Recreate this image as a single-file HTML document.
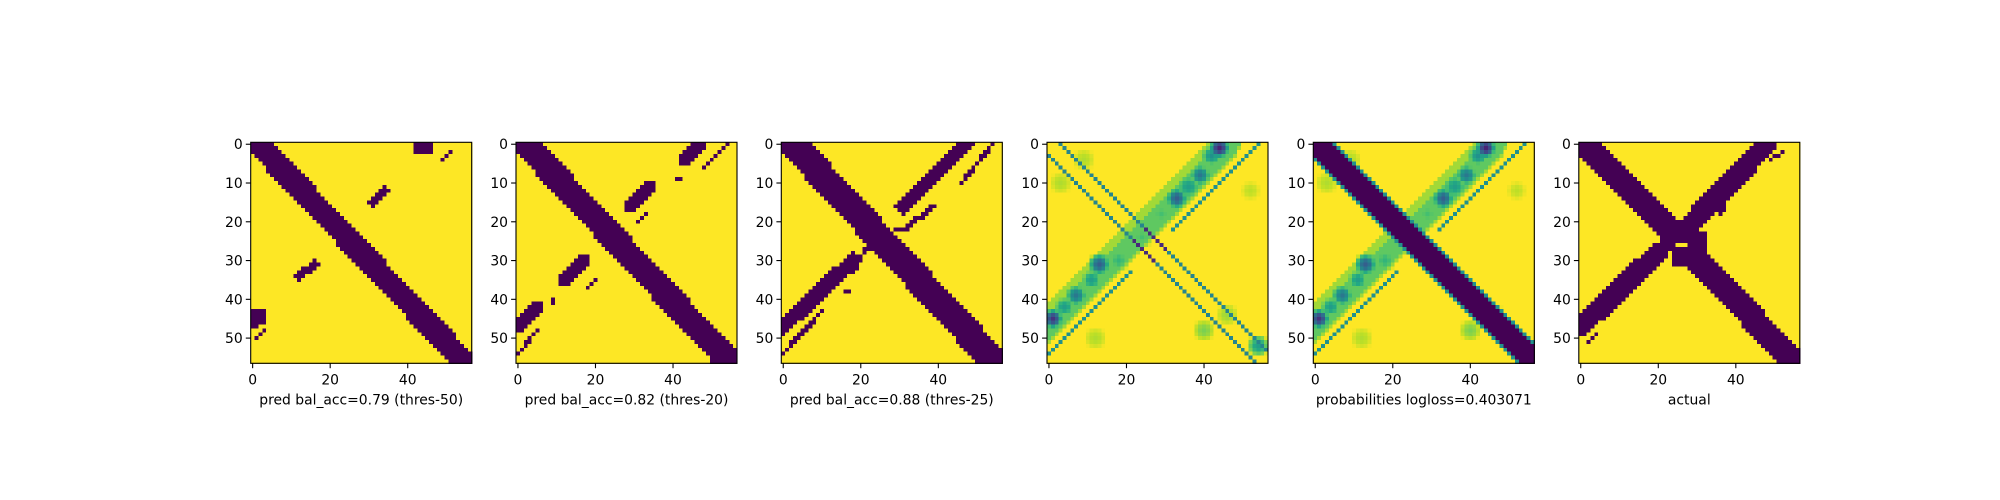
<!DOCTYPE html>
<html><head><meta charset="utf-8">
<style>
html,body{margin:0;padding:0;background:#fff;}
svg{display:block;font-family:"DejaVu Sans","Liberation Sans",sans-serif;}
</style></head>
<body>
<svg id="fig" width="2000" height="500" viewBox="0 0 2000 500" xmlns="http://www.w3.org/2000/svg"></svg>
<script>
// ---- data ----
const panelTitles = ["pred bal_acc=0.79 (thres-50)","pred bal_acc=0.82 (thres-20)","pred bal_acc=0.88 (thres-25)","","probabilities logloss=0.403071","actual"];
const yTicks = [0,10,20,30,40,50];
const xTicks = [0,20,40];
const N = 57;
// strokes: [r0,c0,r1,c1,halfWidth,value]; rects: [r0,r1,c0,c1,value]; blobs: [r,c,radius,value]
const p1Strokes = [[0,1.5,56,54.5,3.0,0],[12,34,15,31,1.2,0],[31,16,34,12,1.2,0],[2,51,4,49,0.4,0],[48,3,50,1,0.4,0]];
const p1Rects = [[0,2,42,46,0],[43,46,0,3,0],[47,47,0,1,0]];
const p2Strokes = [[0,2,56,54.5,3.3,0],[0,47,4,43,1.6,0],[0,54,6,48,0.5,0],[11,34,16,29,1.6,0],[18,33,20,31,0.5,0],[30,17,35,12,1.6,0],[35,20,37,18,0.5,0],[40,9,41,9,0.4,0],[42,5,47,0,1.6,0],[48,5,54,0,0.5,0],[9,41,9,42,0.4,0]];
const p2Rects = [];
const p3Strokes = [[0,2.5,56,54.5,3.6,0],[0,47,16,31,2.0,0],[0,54,10,46,0.6,0],[16,39,22,31,0.6,0],[22,29,22,31,0.4,0],[30,18,47,0,2.0,0],[26,22,33,18,0.6,0],[43,10,54,0,0.6,0],[38,17,38,16,0.4,0]];
const p3Rects = [];
const p4Strokes = [[0,3,53,56,0.5,0.45],[3,0,56,53,0.5,0.45],[22,25,27,30,0.5,0.12],[25,22,30,27,0.5,0.12],[0,54,22,32,0.5,0.5],[33,21,54,0,0.5,0.5],[0,46,56,-10,3.6,0.86],[0,47,56,-9,2.2,0.75]];
const p4Blobs = [[1,44,2.8,0.1],[3,42,3,0.5],[8,39,3,0.4],[14,33,3,0.3],[11,36,3.5,0.55],[18,29,3,0.7],[24,24,3,0.7],[30,18,3,0.65],[31,13,3,0.3],[35,11,3,0.55],[39,7,3,0.4],[45,1,2.8,0.15],[42,4,3,0.55],[10,3,3,0.88],[4,9,3,0.88],[48,40,3,0.8],[44,46,3,0.85],[52,54,3,0.55],[50,12,3,0.88],[12,52,2.5,0.9]];
const p5Strokes = [[0,0.5,56,56.5,3.6,0.5],[0,0.5,56,56.5,2.8,0],[0,54,22,32,0.5,0.5],[33,21,54,0,0.5,0.5],[0,46,56,-10,3.6,0.86],[0,47,56,-9,2.2,0.75]];
const p5Blobs = [[1,44,2.8,0.1],[3,42,3,0.5],[8,39,3,0.4],[14,33,3,0.3],[11,36,3.5,0.55],[18,29,3,0.7],[30,18,3,0.65],[31,13,3,0.3],[35,11,3,0.55],[39,7,3,0.4],[45,1,2.8,0.15],[42,4,3,0.55],[10,3,3,0.88],[4,9,3,0.88],[48,40,3,0.8],[44,46,3,0.85],[50,12,3,0.88],[12,52,2.5,0.9]];
const p6Strokes = [[0,1.5,56,55,3.2,0],[0,48,23,26,2.7,0],[28,20,47,0,2.7,0],[49,4,51,2,0.4,0],[2,52,4,49,0.5,0],[16,37,18,36,0.6,0]];
const p6Rects = [[23,31,24,32,0],[26,26,25,27,1]];
const panels = [[p1Strokes,p1Rects,[]],[p2Strokes,p2Rects,[]],[p3Strokes,p3Rects,[]],[p4Strokes,[],p4Blobs],[p5Strokes,[],p5Blobs],[p6Strokes,p6Rects,[]]];

// ---- layout ----
const lefts = [250.7,516,781.3,1047,1313.3,1578.8];
const top0 = 142.3, size = 221, cs = size/N;
const svg = document.getElementById('fig');
const NS = "http://www.w3.org/2000/svg";
const vir = ["#440154","#482475","#414487","#355f8d","#2a788e","#21918c","#22a884","#44bf70","#7ad151","#bddf26","#fde725"];
function hex(h){return [1,3,5].map(i=>parseInt(h.substr(i,2),16));}
const virRGB = vir.map(hex);
function cmap(v){v=Math.max(0,Math.min(1,v));const t=v*10;const i=Math.min(9,Math.floor(t));const f=t-i;const a=virRGB[i],b=virRGB[i+1];return 'rgb('+a.map((x,k)=>Math.round(x+(b[k]-x)*f)).join(',')+')';}
function segDist(r,c,s){const dr=s[2]-s[0],dc=s[3]-s[1];const L=dr*dr+dc*dc;let t=L?((r-s[0])*dr+(c-s[1])*dc)/L:0;t=Math.max(0,Math.min(1,t));const pr=s[0]+t*dr,pc=s[1]+t*dc;return Math.hypot(r-pr,c-pc);}
function mk(tag,attrs){const e=document.createElementNS(NS,tag);for(const k in attrs)e.setAttribute(k,attrs[k]);return e;}

panels.forEach((p,pi)=>{
  const [strokes,rects,blobs]=p;
  const grid=[];
  for(let r=0;r<N;r++){grid.push(new Array(N).fill(1));}
  for(let r=0;r<N;r++)for(let c=0;c<N;c++){
    let v=1;
    blobs.forEach(b=>{const d=Math.hypot(r-b[0],c-b[1]);if(d<b[2]){const w=b[3]+(1-b[3])*(d/b[2])*(d/b[2]);v=Math.min(v,w);}});
    strokes.forEach(s=>{if(segDist(r,c,s)<=s[4])v=Math.min(v,s[5]);});
    grid[r][c]=v;
  }
  rects.forEach(q=>{for(let r=q[0];r<=q[1];r++)for(let c=q[2];c<=q[3];c++)if(r>=0&&r<N&&c>=0&&c<N)grid[r][c]=q[4];});
  const x0=lefts[pi];
  const g=mk('g',{});
  
  
  svg.appendChild(g);
  const cells=mk('g',{'shape-rendering':'crispEdges'});
  
  
  g.appendChild(cells);
  for(let r=0;r<N;r++){
    let c=0;
    while(c<N){
      const col=cmap(grid[r][c]);let e=c;
      while(e+1<N&&cmap(grid[r][e+1])===col)e++;
      const rc=mk('rect',{x:(x0+c*cs).toFixed(2),y:(top0+r*cs).toFixed(2),width:((e-c+1)*cs+0.6).toFixed(2),height:(cs+0.6).toFixed(2),fill:col});
      
      
      cells.appendChild(rc);
      c=e+1;
    }
  }
  const frame=mk('rect',{x:x0,y:top0,width:size,height:size,fill:'none',stroke:'#000','stroke-width':1.1});
  
  
  g.appendChild(frame);
  yTicks.forEach(t=>{
    const y=top0+(t+0.5)*cs;
    const tk=mk('line',{x1:x0,x2:x0-4.9,y1:y,y2:y,stroke:'#000','stroke-width':1.1});
    
    
    g.appendChild(tk);
    const tx=mk('text',{x:x0-8,y:y+5,'text-anchor':'end','font-size':'13.9',fill:'#000'});
    tx.textContent=t;
    
    
    g.appendChild(tx);
  });
  xTicks.forEach(t=>{
    const x=x0+(t+0.5)*cs;
    const tk=mk('line',{x1:x,x2:x,y1:top0+size,y2:top0+size+4.9,stroke:'#000','stroke-width':1.1});
    
    
    g.appendChild(tk);
    const tx=mk('text',{x:x,y:top0+size+21,'text-anchor':'middle','font-size':'13.9',fill:'#000'});
    tx.textContent=t;
    
    
    g.appendChild(tx);
  });
  if(panelTitles[pi]){
    const lb=mk('text',{x:x0+size/2,y:top0+size+41,'text-anchor':'middle','font-size':'13.9',fill:'#000'});
    lb.textContent=panelTitles[pi];
    
    
    g.appendChild(lb);
  }
});
</script>
</body></html>
